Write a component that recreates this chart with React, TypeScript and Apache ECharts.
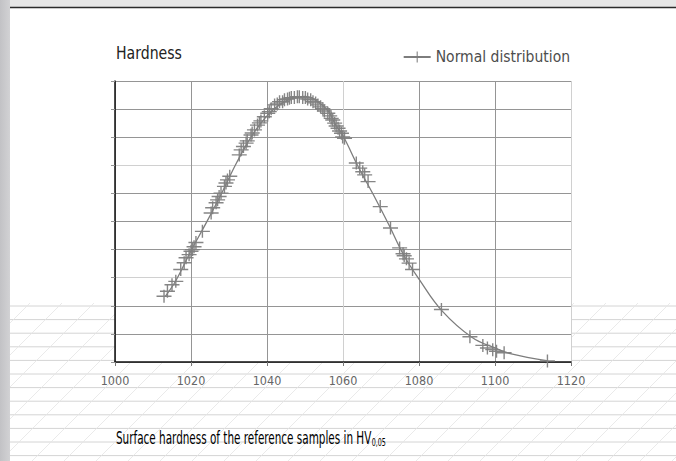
import React, { useEffect, useRef } from "react";
import * as echarts from "echarts";

// Smooth normal-distribution curve
const curveX = [1013.2, 1016, 1020, 1024, 1028, 1032, 1036, 1040, 1044, 1048, 1050, 1052, 1056, 1058, 1060, 1064, 1068, 1072, 1076, 1080, 1086, 1094, 1100, 1104, 1114];
const curveY = [2.33, 2.89, 3.96, 4.95, 5.99, 7.09, 8.05, 8.76, 9.22, 9.43, 9.45, 9.38, 8.95, 8.45, 8.05, 6.95, 5.95, 4.9, 3.8, 2.95, 1.83, 0.87, 0.5, 0.3, 0.04];

// Individual samples (crosses)
const markerX = [
  1012.9, 1013.8, 1015.0, 1016.0, 1017.3, 1018.2, 1018.7, 1019.5, 1020.0, 1020.4, 1020.8, 1021.3, 1023.0,
  1025.3, 1025.7, 1026.6, 1027.0, 1027.4, 1027.9, 1028.8, 1029.2, 1029.6, 1030.2,
  1032.7, 1033.2, 1033.8, 1034.5, 1034.8, 1035.8, 1036.1,
  1036.7, 1037.5, 1038.0, 1038.4, 1039.3, 1040.2, 1040.6, 1041.1, 1042.0,
  1042.7, 1043.3, 1044.1, 1044.6, 1045.4, 1045.9, 1046.4, 1047.2, 1048.0, 1048.5, 1049.4, 1050.1, 1050.7,
  1051.5, 1052.1, 1052.8, 1053.4, 1054.1, 1054.7, 1055.1, 1056.0, 1056.5, 1056.9, 1057.3, 1057.8, 1058.2,
  1058.7, 1059.1, 1059.6, 1059.9, 1060.4,
  1063.5, 1064.4, 1065.2, 1065.7, 1066.6, 1069.8, 1072.5,
  1074.9, 1075.8, 1076.1, 1076.7, 1077.4, 1078.3,
  1085.9, 1093.4, 1096.8, 1098.0, 1099.4, 1100.4, 1102.4, 1113.8,
];
const markerY = [
  2.34, 2.52, 2.75, 2.87, 3.29, 3.53, 3.71, 3.82, 3.94, 4.0, 4.1, 4.25, 4.65,
  5.3, 5.49, 5.67, 5.77, 5.89, 6.01, 6.25, 6.37, 6.48, 6.61,
  7.37, 7.55, 7.67, 7.79, 7.87, 8.08, 8.15,
  8.26, 8.43, 8.51, 8.58, 8.73, 8.85, 8.91, 9.01, 9.15,
  9.18, 9.26, 9.26, 9.33, 9.36, 9.39, 9.41, 9.41, 9.44, 9.44, 9.41, 9.41, 9.36,
  9.33, 9.26, 9.22, 9.15, 9.08, 9.01, 8.93, 8.85, 8.76, 8.67, 8.61, 8.5, 8.4,
  8.32, 8.22, 8.14, 8.01, 7.96,
  7.08, 6.9, 6.77, 6.66, 6.42, 5.53, 4.77,
  4.06, 3.85, 3.78, 3.67, 3.52, 3.29,
  1.87, 0.9, 0.59, 0.5, 0.44, 0.38, 0.33, 0.04,
];

const xTicks = { min: 1000, max: 1120, step: 20 };
const yTicks = { min: 0, max: 10, step: 1 };

const seriesName = "Normal distribution";
const yTitle = "Hardness";
const xTitleMain = "Surface hardness of the reference samples in HV";
const xTitleSub = "0,05";

const FONT = "'Liberation Sans Narrow', 'DejaVu Sans Condensed', sans-serif";
const CROSS = "path://M0,5.35H14V6.65H0Z M6.35,0H7.65V12H6.35Z";

export default function App() {
  const ref = useRef<HTMLDivElement>(null);

  useEffect(() => {
    if (!ref.current) return;
    const chart = echarts.init(ref.current, undefined, { renderer: "svg" });

    const deco: any[] = [];
    // hatched background in the lower part of the page
    for (let k = 0; k < 12; k++) {
      const y = 306 + 13.6 * k;
      deco.push({
        type: "line", z: -10, silent: true,
        shape: { x1: 10, y1: y, x2: 676, y2: y },
        style: { stroke: "#d4d4d4", lineWidth: 1 },
      });
    }
    for (let x0 = -160; x0 < 690; x0 += 32) {
      deco.push({
        type: "line", z: -10, silent: true,
        shape: { x1: x0, y1: 461, x2: x0 + 158, y2: 303 },
        style: { stroke: "#e4e4e4", lineWidth: 0.8 },
      });
    }
    // left strip and top band
    deco.push({
      type: "rect", z: -5, silent: true,
      shape: { x: 0, y: 0, width: 10, height: 461 },
      style: {
        fill: new echarts.graphic.LinearGradient(0, 0, 1, 0, [
          { offset: 0, color: "#c2c2c5" },
          { offset: 1, color: "#d2d2d4" },
        ]),
      },
    });
    deco.push({
      type: "rect", z: -5, silent: true,
      shape: { x: 10, y: 0, width: 666, height: 7 },
      style: { fill: "#e6e6e6" },
    });
    deco.push({
      type: "line", z: -4, silent: true,
      shape: { x1: 10, y1: 7.5, x2: 676, y2: 7.5 },
      style: { stroke: "#2b2b2b", lineWidth: 1.5 },
    });
    // titles (condensed by horizontal scaling)
    deco.push({
      type: "text", z: 10, x: 116, y: 53, scaleX: 0.87,
      style: { text: yTitle, font: `18px ${FONT}`, fill: "#222", verticalAlign: "middle", align: "left" },
    });
    deco.push({
      type: "text", z: 10, x: 116, y: 437, scaleX: 0.645,
      style: {
        text: `{m|${xTitleMain}}{s|${xTitleSub}}`,
        verticalAlign: "middle", align: "left",
        rich: {
          m: { fontFamily: FONT, fontSize: 18, color: "#222", verticalAlign: "bottom", lineHeight: 21 },
          s: { fontFamily: FONT, fontSize: 11, color: "#222", verticalAlign: "bottom", lineHeight: 19 },
        },
      },
    });

    const gridColor = "#959595";
    const light = "#d0d0d0";

    chart.setOption({
      animation: false,
      backgroundColor: "#ffffff",
      graphic: { elements: deco },
      grid: {
        left: 115, top: 81, width: 456, height: 281,
        show: true, backgroundColor: "#ffffff", borderWidth: 0, containLabel: false,
      },
      legend: {
        data: [seriesName],
        right: 101, top: 44,
        itemWidth: 27, itemHeight: 14, itemGap: 4,
        textStyle: { fontFamily: FONT, fontSize: 15.5, color: "#4d4d4d" },
      },
      xAxis: {
        type: "value",
        min: xTicks.min, max: xTicks.max, interval: xTicks.step,
        axisLine: { show: true, onZero: false, lineStyle: { color: "#111", width: 1.5 } },
        axisTick: { show: true, inside: false, length: 4, lineStyle: { color: "#777" } },
        axisLabel: {
          margin: 12, color: "#666", fontFamily: FONT, fontSize: 12.5,
          formatter: (v: number) => String(v),
        },
        splitLine: {
          show: true,
          lineStyle: { color: [gridColor, gridColor, gridColor, light, gridColor, gridColor, light], width: 1 },
        },
      },
      yAxis: {
        type: "value",
        min: yTicks.min, max: yTicks.max, interval: yTicks.step,
        axisLine: { show: true, onZero: false, lineStyle: { color: "#111", width: 1.5 } },
        axisTick: { show: true, inside: false, length: 4, lineStyle: { color: gridColor } },
        axisLabel: { show: false },
        splitLine: {
          show: true,
          lineStyle: {
            color: [gridColor, gridColor, gridColor, light, gridColor, gridColor, gridColor, light, gridColor, gridColor, gridColor],
            width: 1,
          },
        },
      },
      series: [
        {
          name: seriesName,
          type: "line",
          data: curveX.map((x, i) => [x, curveY[i]]),
          smooth: 0.4,
          symbol: CROSS,
          symbolSize: [14, 12],
          showSymbol: false,
          itemStyle: { color: "#7d7d7d" },
          lineStyle: { color: "#7d7d7d", width: 1.3 },
          z: 3,
        },
        {
          name: "samples",
          type: "scatter",
          data: markerX.map((x, i) => [x, markerY[i]]),
          symbol: CROSS,
          symbolSize: [15, 13],
          itemStyle: { color: "#808080", opacity: 0.95 },
          z: 4,
        },
      ],
    });

    return () => chart.dispose();
  }, []);

  return (
    <div
      ref={ref}
      style={{ position: "fixed", left: 0, top: 0, width: 676, height: 461, background: "#fff" }}
    />
  );
}
